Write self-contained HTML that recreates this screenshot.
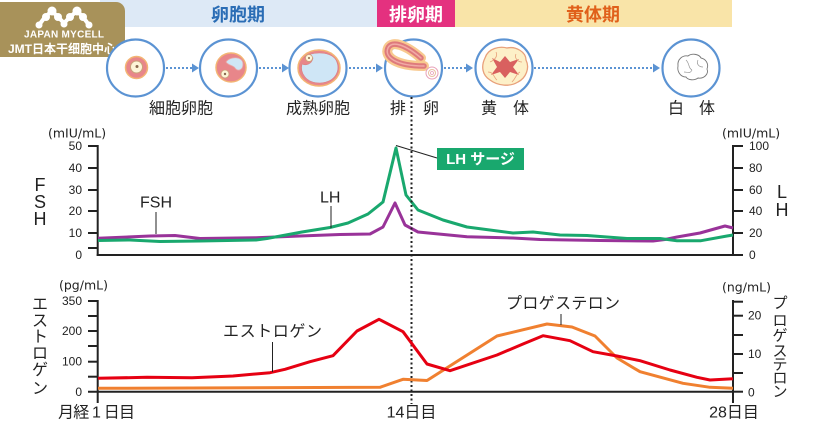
<!DOCTYPE html>
<html><head><meta charset="utf-8"><style>
html,body{margin:0;padding:0;background:#fff;}
svg{display:block;}
text{font-family:"Liberation Sans","Noto Sans CJK JP",sans-serif;}
.n{font-family:"DejaVu Sans","Liberation Sans",sans-serif;font-size:12px;fill:#222;}
.u{font-family:"DejaVu Sans","Liberation Sans",sans-serif;font-size:12.5px;fill:#222;}
.j{font-size:16px;fill:#222;}
</style></head><body>
<svg width="820" height="424" viewBox="0 0 820 424" xmlns="http://www.w3.org/2000/svg">
<rect width="820" height="424" fill="#fff"/>
<!-- header bands -->
<rect x="100" y="0" width="277" height="27" fill="#dde9f6"/>
<rect x="377" y="0" width="78" height="27" fill="#e4317f"/>
<rect x="455" y="0" width="277" height="27" fill="#f9e4a8"/>
<text x="238" y="15" text-anchor="middle" dominant-baseline="central" font-size="18" font-weight="bold" fill="#2a6db5">卵胞期</text>
<text x="416" y="15" text-anchor="middle" dominant-baseline="central" font-size="18" font-weight="bold" fill="#fff">排卵期</text>
<text x="593" y="15" text-anchor="middle" dominant-baseline="central" font-size="18" font-weight="bold" fill="#e0601a">黄体期</text>
<!-- logo -->
<rect x="-10" y="2" width="135" height="55" rx="9" fill="#a8925a"/>
<g fill="#fff" stroke="#fff">
<g stroke-width="4" fill="none" stroke-linecap="round"><polyline points="39,25 45,17 52,11 58,17 64,23 70,17 77,11 83,17 89,25"/></g>
<circle cx="39" cy="25" r="3.5" stroke="none"/><circle cx="46" cy="17" r="4" stroke="none"/><circle cx="52" cy="11" r="4.5" stroke="none"/><circle cx="58" cy="17" r="4" stroke="none"/><circle cx="64" cy="24" r="3.5" stroke="none"/><circle cx="70" cy="17" r="4" stroke="none"/><circle cx="77" cy="11" r="4.5" stroke="none"/><circle cx="83" cy="17" r="4" stroke="none"/><circle cx="89" cy="25" r="3.5" stroke="none"/>
</g>
<text x="64" y="37.5" text-anchor="middle" font-size="10" font-weight="bold" fill="#fff" textLength="80">JAPAN MYCELL</text>
<text x="8" y="53" font-size="12" font-weight="bold" fill="#fff" textLength="108" lengthAdjust="spacingAndGlyphs">JMT日本干细胞中心</text>
<!-- circles -->
<g fill="#fff" stroke="#5b93d3" stroke-width="2.2">
<circle cx="135.5" cy="68" r="28.5"/>
<circle cx="228.5" cy="68" r="28.5"/>
<circle cx="318" cy="68" r="28.5"/>
<circle cx="413.5" cy="68" r="28.5"/>
<circle cx="504" cy="68" r="28.5"/>
<circle cx="691" cy="68" r="28.5"/>
</g>
<!-- arrows -->
<g stroke="#5b93d3" stroke-width="2" stroke-dasharray="2 2" fill="none">
<line x1="166" y1="68" x2="192" y2="68"/>
<line x1="259" y1="68" x2="282" y2="68"/>
<line x1="349" y1="68" x2="377" y2="68"/>
<line x1="444" y1="68" x2="466" y2="68"/>
<line x1="534" y1="68" x2="653" y2="68"/>
</g>
<g fill="#5b93d3">
<polygon points="192,63.5 199,68 192,72.5"/>
<polygon points="282,63.5 289,68 282,72.5"/>
<polygon points="376,63.5 383,68 376,72.5"/>
<polygon points="466,63.5 473,68 466,72.5"/>
<polygon points="653,63.5 660,68 653,72.5"/>
</g>
<!-- icon 1 -->
<circle cx="136.5" cy="67.5" r="11" fill="#e8868a" stroke="#f3b574" stroke-width="1.5"/>
<circle cx="136.5" cy="67" r="6" fill="#fdf5d8" stroke="#c9a27a" stroke-width="1"/>
<circle cx="137" cy="66.5" r="1.5" fill="#8a6a50"/>
<!-- icon 2 -->
<ellipse cx="231" cy="67.5" rx="15" ry="14.5" fill="#e8868a" stroke="#f3b574" stroke-width="1.5"/>
<path d="M226 62 C230 56,243 56,243 64 C243 70,238 72,235 68 C233 65,229 66,226 62 Z" fill="#cfe6f6" stroke="#e8a8a8" stroke-width="0.8"/>
<circle cx="225" cy="74" r="4" fill="#fdf5d8" stroke="#c9a27a" stroke-width="0.8"/>
<circle cx="225" cy="74" r="1.2" fill="#8a6a50"/>
<!-- icon 3 -->
<ellipse cx="319" cy="68" rx="21" ry="18" fill="#e8868a" stroke="#f3b574" stroke-width="1.5"/>
<path d="M304 58 C308 52,330 50,336 60 C341 70,336 82,320 83 C305 83,300 72,302 64 C306 66,312 64,313 58 C311 56,306 56,304 58 Z" fill="#cfe6f6" stroke="#d88080" stroke-width="0.6"/>
<circle cx="309" cy="58" r="3.5" fill="#fdf5d8" stroke="#c9a27a" stroke-width="0.8"/>
<circle cx="309" cy="58" r="1" fill="#8a6a50"/>
<!-- icon 4 -->
<path d="M421 58 C406 45,392 40,388 48 C384 57,396 66,424 66" fill="none" stroke="#f8c98f" stroke-width="10" stroke-linecap="round"/>
<path d="M421 58 C406 45,392 40,388 48 C384 57,396 66,424 66" fill="none" stroke="#de7a7c" stroke-width="5.5" stroke-linecap="round"/>
<path d="M421 58 C406 45,392 40,388 48 C384 57,396 66,424 66" fill="none" stroke="#f1aaa6" stroke-width="1.5" stroke-linecap="round"/>
<circle cx="432" cy="73" r="6" fill="#fff" stroke="#e8a0b8" stroke-width="1"/>
<circle cx="432" cy="73" r="3.5" fill="none" stroke="#e8c0a0" stroke-width="1"/>
<circle cx="432" cy="73" r="1.5" fill="none" stroke="#e8a0b8" stroke-width="0.8"/>
<!-- icon 5 -->
<path d="M485 58 C488 48,500 46,507 48 C516 46,526 52,526 60 C530 68,526 78,518 82 C510 87,498 86,490 80 C482 75,481 66,485 58 Z" fill="#fdf0c8" stroke="#e8a07a" stroke-width="1.3"/>
<path d="M492 58 L500 62 L505 56 L510 62 L519 59 L513 67 L519 75 L510 72 L505 78 L500 72 L491 75 L497 67 Z" fill="#d9605f"/>
<path d="M490 62 C495 60,498 56,496 52 M516 54 C514 58,518 62,522 62 M488 72 C494 72,494 78,497 80 M520 72 C516 74,516 78,512 82" fill="none" stroke="#e8a07a" stroke-width="0.8"/>
<!-- icon 6 -->
<path d="M678 66 C677 59,683 55,688 56 C692 53,699 54,701 58 C706 59,709 64,707 69 C709 74,704 79,698 78 C694 81,688 80,686 77 C680 77,677 71,678 66 Z" fill="#fff" stroke="#777" stroke-width="0.9"/>
<path d="M686 60 C690 64,688 68,692 70 M698 60 C696 64,699 67,703 67 M684 72 C688 72,690 74,692 70" fill="none" stroke="#999" stroke-width="0.7"/>
<!-- icon labels -->
<text x="181" y="109" text-anchor="middle" dominant-baseline="central" class="j">細胞卵胞</text>
<text x="318" y="109" text-anchor="middle" dominant-baseline="central" class="j">成熟卵胞</text>
<text x="398" y="109" text-anchor="middle" dominant-baseline="central" class="j">排</text>
<text x="431" y="109" text-anchor="middle" dominant-baseline="central" class="j">卵</text>
<text x="489" y="109" text-anchor="middle" dominant-baseline="central" class="j">黄</text>
<text x="521" y="109" text-anchor="middle" dominant-baseline="central" class="j">体</text>
<text x="676" y="109" text-anchor="middle" dominant-baseline="central" class="j">白</text>
<text x="707" y="109" text-anchor="middle" dominant-baseline="central" class="j">体</text>

<!-- ===== top chart ===== -->
<text x="48" y="133" dominant-baseline="central" class="u">(mIU/mL)</text>
<text x="722" y="133" dominant-baseline="central" class="u">(mIU/mL)</text>
<g stroke="#222" stroke-width="2" fill="none">
<line x1="97.7" y1="145" x2="97.7" y2="256"/>
<line x1="733" y1="145" x2="733" y2="256"/>
<line x1="96.7" y1="255" x2="734" y2="255"/>
<line x1="88" y1="146" x2="98" y2="146"/>
<line x1="88" y1="168" x2="98" y2="168"/>
<line x1="88" y1="190" x2="98" y2="190"/>
<line x1="88" y1="211" x2="98" y2="211"/>
<line x1="88" y1="233" x2="98" y2="233"/>
<line x1="88" y1="248" x2="98" y2="248"/>
<line x1="733" y1="146" x2="743" y2="146"/>
<line x1="733" y1="168" x2="743" y2="168"/>
<line x1="733" y1="190" x2="743" y2="190"/>
<line x1="733" y1="211" x2="743" y2="211"/>
<line x1="733" y1="233" x2="743" y2="233"/>
<line x1="733" y1="255" x2="743" y2="255"/>
</g>
<g class="n" text-anchor="end" dominant-baseline="central">
<text x="82" y="146">50</text><text x="82" y="168">40</text><text x="82" y="190">30</text><text x="82" y="211">20</text><text x="82" y="233">10</text><text x="82" y="255">0</text>
</g>
<g class="n" dominant-baseline="central">
<text x="749" y="146">100</text><text x="749" y="168">80</text><text x="749" y="190">60</text><text x="749" y="211">40</text><text x="749" y="233">20</text><text x="749" y="255">0</text>
</g>
<g font-size="18" fill="#222" text-anchor="middle" dominant-baseline="central">
<text x="40" y="185">F</text><text x="40" y="202">S</text><text x="40" y="219">H</text>
<text x="782" y="192">L</text><text x="782" y="210">H</text>
</g>
<polyline fill="none" stroke="#993399" stroke-width="3" stroke-linejoin="round" points="98,238.3 150,236 175,235.5 200,238.5 256,237.7 300,236 340,234.5 370,234 383,227 395,203 405,225 418,232 467,236.7 513,238 540,239.5 600,240.5 653,241 665,239.5 677,237 700,233 725,226 733,228"/>
<polyline fill="none" stroke="#19a86e" stroke-width="3" stroke-linejoin="round" points="98,240.5 130,240 160,241.5 200,241 256,240 267,238.5 302,232 330,227.5 348,223 368,214 383,202 396,148 406,195 418,210 443,220 467,227 513,233 533,232 560,235 587,235.5 627,238.5 660,238.5 677,240.7 701,240.7 727,236 733,235"/>
<text x="140" y="203" font-size="16" fill="#222" dominant-baseline="central">FSH</text>
<line x1="156" y1="212" x2="156" y2="234" stroke="#222" stroke-width="1"/>
<text x="320" y="198" font-size="16" fill="#222" dominant-baseline="central">LH</text>
<line x1="331" y1="206" x2="331" y2="228" stroke="#222" stroke-width="1"/>
<line x1="396" y1="145.5" x2="437" y2="158" stroke="#222" stroke-width="1"/>
<rect x="437" y="148" width="87" height="22" fill="#19a86e"/>
<text x="480.5" y="159.5" text-anchor="middle" dominant-baseline="central" font-size="15" font-weight="bold" fill="#fff">LH サージ</text>

<!-- dotted ovulation line -->
<line x1="411.5" y1="97" x2="411.5" y2="404" stroke="#222" stroke-width="2" stroke-dasharray="2 2.5"/>

<!-- ===== bottom chart ===== -->
<text x="59" y="285" dominant-baseline="central" class="u">(pg/mL)</text>
<text x="722" y="287" dominant-baseline="central" class="u">(ng/mL)</text>
<g stroke="#222" stroke-width="2" fill="none">
<line x1="97.7" y1="300" x2="97.7" y2="403"/>
<line x1="733" y1="300" x2="733" y2="403"/>
<line x1="88" y1="391.7" x2="734" y2="391.7"/>
<line x1="88" y1="301" x2="98" y2="301"/>
<line x1="88" y1="316" x2="98" y2="316"/>
<line x1="88" y1="331" x2="98" y2="331"/>
<line x1="88" y1="346" x2="98" y2="346"/>
<line x1="88" y1="361.7" x2="98" y2="361.7"/>
<line x1="88" y1="376.7" x2="98" y2="376.7"/>
<line x1="733" y1="301.7" x2="743" y2="301.7"/>
<line x1="733" y1="315.7" x2="743" y2="315.7"/>
<line x1="733" y1="335" x2="743" y2="335"/>
<line x1="733" y1="354" x2="743" y2="354"/>
<line x1="733" y1="373" x2="743" y2="373"/>
<line x1="733" y1="391.7" x2="743" y2="391.7"/>
</g>
<g class="n" text-anchor="end" dominant-baseline="central">
<text x="82" y="301">350</text><text x="82" y="331">200</text><text x="82" y="361.7">100</text><text x="82" y="392">0</text>
</g>
<g class="n" dominant-baseline="central">
<text x="748" y="315.7">20</text><text x="748" y="354">10</text><text x="748" y="392.5">0</text>
</g>
<g font-size="16" fill="#222" text-anchor="middle" dominant-baseline="central">
<text x="40" y="305">エ</text><text x="40" y="321.5">ス</text><text x="40" y="337.5">ト</text><text x="40" y="354">ロ</text><text x="40" y="370.5">ゲ</text><text x="40" y="389">ン</text>
</g>
<g font-size="15" fill="#222" text-anchor="middle" dominant-baseline="central">
<text x="780" y="303.5">プ</text><text x="780" y="321">ロ</text><text x="780" y="336">ゲ</text><text x="780" y="351.5">ス</text><text x="780" y="365">テ</text><text x="780" y="378.5">ロ</text><text x="780" y="392">ン</text>
</g>
<polyline fill="none" stroke="#f08030" stroke-width="3" stroke-linejoin="round" points="98,388.3 380,387.3 403,379.3 427,380.5 497,336 547,324 572,327 595,336 617,358 640,371.7 683,383.3 710,387.3 733,388.3"/>
<polyline fill="none" stroke="#e60012" stroke-width="3" stroke-linejoin="round" points="98,378.3 147,377.3 192,377.7 233,376 270,372.7 285,369.3 310,361.7 333,355.7 357,331 379,319.3 403,331.7 427,364 450,370.7 497,355 523,344 543,335.7 570,340.7 593,351.7 617,356 640,360.7 670,370 697,377.3 710,380 733,378.7"/>
<text x="223" y="332" font-size="16" fill="#222" dominant-baseline="central" textLength="99">エストロゲン</text>
<line x1="272.5" y1="342" x2="272.5" y2="372" stroke="#222" stroke-width="1"/>
<text x="506" y="304" font-size="16" fill="#222" dominant-baseline="central" textLength="114">プロゲステロン</text>
<line x1="561" y1="314" x2="561" y2="325" stroke="#222" stroke-width="1"/>
<!-- x labels -->
<text x="58" y="413" font-size="16" fill="#222" dominant-baseline="central" textLength="77">月経 1 日目</text>
<text x="411.5" y="413" font-size="16" fill="#222" text-anchor="middle" dominant-baseline="central">14日目</text>
<text x="734" y="413" font-size="16" fill="#222" text-anchor="middle" dominant-baseline="central">28日目</text>
</svg>
</body></html>
